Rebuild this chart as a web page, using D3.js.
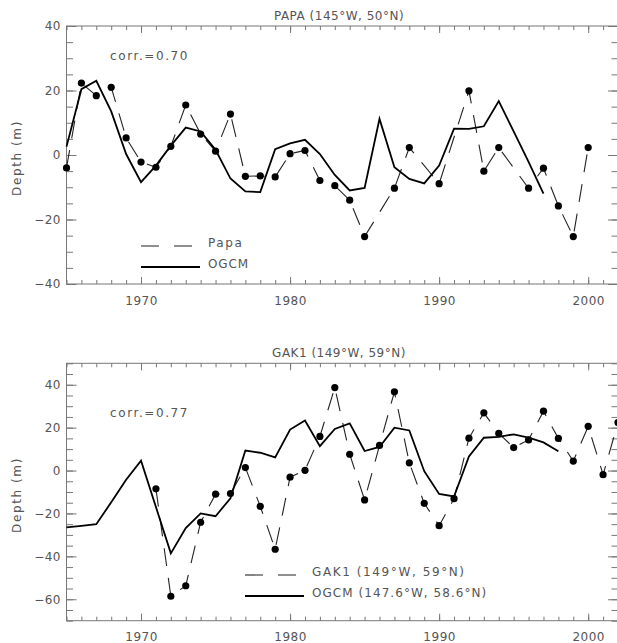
<!DOCTYPE html>
<html>
<head>
<meta charset="utf-8">
<script src="https://cdn.jsdelivr.net/npm/d3@7"></script>
<style>
  body { margin: 0; background: #fff; }
  svg text { font-family: "DejaVu Sans", sans-serif; font-size: 12px; letter-spacing: 0.5px; fill: #555; }
  svg text.lab { letter-spacing: 1.6px; }
  .axis path.domain { display: none; }
  .axis line { stroke: #777; }
</style>
</head>
<body>
<div id="chart"></div>
<script>
// PAPA (145W, 50N) - observed anomaly, years with data only
const papaYears = [1965, 1966, 1967, 1968, 1969, 1970, 1971, 1972, 1973, 1974, 1975, 1976, 1977, 1978,
  1979, 1980, 1981, 1982, 1983, 1984, 1985, 1987, 1988, 1990, 1992, 1993, 1994, 1996, 1997, 1998, 1999, 2000];
const papaObs = [-4, 22.3, 18.4, 21.0, 5.3, -2.2, -3.8, 2.7, 15.5, 6.5, 1.2, 12.7, -6.6, -6.5,
  -6.8, 0.4, 1.4, -7.9, -9.5, -14.0, -25.3, -10.3, 2.3, -8.9, 19.9, -5.0, 2.3, -10.3, -4.1, -15.8, -25.3, 2.3];
// OGCM at PAPA, 1965-1997
const papaModelYears = d3.range(1965, 1998);
const papaModel = [2.6, 20.4, 23.0, 13.5, 0.3, -8.4, -3.3, 2.9, 8.5, 7.3, 1.6, -7.3, -11.3, -11.5,
  1.8, 3.6, 4.7, 0.3, -6.2, -11.0, -10.2, 11.2, -3.8, -7.4, -8.8, -3.3, 8.2, 8.1, 8.9, 16.7, 7.3, -2.1, -12.0];

// GAK1 (149W, 59N), 1971-2002
const gakYears = d3.range(1971, 2003);
const gakObs = [-8.5, -58.6, -53.7, -24.1, -11.0, -10.7, 1.4, -16.7, -36.7, -3.1, 0.1, 15.9, 38.7, 7.6,
  -13.7, 11.7, 36.7, 3.6, -15.3, -25.7, -13.1, 15.1, 26.9, 17.3, 10.7, 14.3, 27.7, 15.0, 4.4, 20.6, -1.9, 22.4];
// OGCM at 147.6W, 58.6N, 1965-1998
const gakModelYears = d3.range(1965, 1999);
const gakModel = [-26.5, -25.8, -25.0, -14.8, -4.3, 4.6, -17.0, -38.6, -26.8, -20.0, -21.3, -12.9, 9.3, 8.3,
  6.1, 19.1, 23.3, 11.4, 19.4, 22.0, 9.1, 11.0, 20.0, 18.7, -0.3, -10.9, -12.1, 6.6, 15.3, 15.7, 16.9, 15.3, 13.1, 9.0];

const xMajor = [1970, 1980, 1990, 2000];

const width = 617;
const height = 643;

const svg = d3.select("#chart")
  .append("svg")
  .attr("width", width)
  .attr("height", height);

const x = d3.scaleLinear().domain([1965, 2002]).range([66.5, 618]);
const xMinor = d3.range(1965, 2003);

function drawPanel(p) {
  const y = d3.scaleLinear().domain(p.yDomain).range(p.yRange);
  const yMinor = d3.range(p.yDomain[0], p.yDomain[1] + 1, 5);
  const top = p.yRange[1], bottom = p.yRange[0];
  const g = svg.append("g");

  // frame
  g.append("rect")
    .attr("x", x.range()[0]).attr("y", top)
    .attr("width", x.range()[1] - x.range()[0]).attr("height", bottom - top)
    .attr("fill", "none").attr("stroke", "#777");

  // x ticks, inward, bottom and top
  g.append("g").attr("class", "axis").attr("transform", `translate(0,${bottom})`)
    .call(d3.axisBottom(x).tickValues(xMinor).tickSize(-4).tickFormat(""));
  g.append("g").attr("class", "axis").attr("transform", `translate(0,${bottom})`)
    .call(d3.axisBottom(x).tickValues(xMajor).tickSize(-7).tickPadding(12).tickFormat(d3.format("d")));
  g.append("g").attr("class", "axis").attr("transform", `translate(0,${top})`)
    .call(d3.axisTop(x).tickValues(xMinor).tickSize(-4).tickFormat(""));
  g.append("g").attr("class", "axis").attr("transform", `translate(0,${top})`)
    .call(d3.axisTop(x).tickValues(xMajor).tickSize(-7).tickFormat(""));

  // y ticks, inward, left and right
  g.append("g").attr("class", "axis").attr("transform", `translate(${x.range()[0]},0)`)
    .call(d3.axisLeft(y).tickValues(yMinor).tickSize(-6.5).tickFormat(""));
  g.append("g").attr("class", "axis").attr("transform", `translate(${x.range()[0]},0)`)
    .call(d3.axisLeft(y).tickValues(p.yMajor).tickSize(-10).tickPadding(5.5));
  g.append("g").attr("class", "axis").attr("transform", `translate(${x.range()[1]},0)`)
    .call(d3.axisRight(y).tickValues(yMinor).tickSize(-6.5).tickFormat(""));
  g.append("g").attr("class", "axis").attr("transform", `translate(${x.range()[1]},0)`)
    .call(d3.axisRight(y).tickValues(p.yMajor).tickSize(-10).tickFormat(""));

  // title and y label
  g.append("text")
    .attr("x", 339).attr("y", top - 6)
    .attr("text-anchor", "middle")
    .text(p.title);
  g.append("text")
    .attr("class", "lab")
    .attr("transform", `translate(21,${(top + bottom) / 2 + 3}) rotate(-90)`)
    .attr("text-anchor", "middle")
    .text("Depth (m)");

  g.append("text")
    .attr("class", "lab")
    .attr("x", 110).attr("y", p.corrY)
    .text(p.corr);

  const line = d3.line().x(d => x(d[0])).y(d => y(d[1]));

  // observed: dashed line + dots
  const obs = p.obsYears.map((yr, i) => [yr, p.obs[i]]);
  g.append("path")
    .datum(obs)
    .attr("d", line)
    .attr("fill", "none")
    .attr("stroke", "#222")
    .attr("stroke-width", 1.1)
    .attr("stroke-dasharray", "18,12");
  g.selectAll(".dot")
    .data(obs)
    .enter()
    .append("circle")
    .attr("class", "dot")
    .attr("cx", d => x(d[0]))
    .attr("cy", d => y(d[1]))
    .attr("r", 3.6)
    .attr("fill", "#000");

  // model: solid line
  const mod = p.modelYears.map((yr, i) => [yr, p.model[i]]);
  g.append("path")
    .datum(mod)
    .attr("d", line)
    .attr("fill", "none")
    .attr("stroke", "#000")
    .attr("stroke-width", 1.8);

  // legend
  const lg = g.append("g");
  lg.append("line")
    .attr("x1", p.legX).attr("x2", p.legX + 52)
    .attr("y1", p.legY).attr("y2", p.legY)
    .attr("stroke", "#222").attr("stroke-width", 1.1)
    .attr("stroke-dasharray", "18,15");
  lg.append("line")
    .attr("x1", p.legX).attr("x2", p.legX + 59)
    .attr("y1", p.legY + 21).attr("y2", p.legY + 21)
    .attr("stroke", "#000").attr("stroke-width", 1.8);
  lg.append("text")
    .attr("class", "lab")
    .attr("x", p.legTextX).attr("y", p.legY + 1)
    .text(p.obsName);
  lg.append("text")
    .attr("class", "lab")
    .style("letter-spacing", p.modelSpacing)
    .attr("x", p.legTextX).attr("y", p.legY + 22)
    .text(p.modelName);
}

drawPanel({
  title: "PAPA (145°W, 50°N)",
  yDomain: [-40, 40], yRange: [284, 26], yMajor: [-40, -20, 0, 20, 40],
  corr: "corr.=0.70", corrY: 60,
  obsYears: papaYears, obs: papaObs,
  modelYears: papaModelYears, model: papaModel,
  legX: 141, legY: 246, legTextX: 208,
  obsName: "Papa", modelName: "OGCM", modelSpacing: "0.9px"
});

drawPanel({
  title: "GAK1 (149°W, 59°N)",
  yDomain: [-70, 50], yRange: [620.7, 363.3], yMajor: [-60, -40, -20, 0, 20, 40],
  corr: "corr.=0.77", corrY: 417,
  obsYears: gakYears, obs: gakObs,
  modelYears: gakModelYears, model: gakModel,
  legX: 245, legY: 575, legTextX: 312,
  obsName: "GAK1 (149°W, 59°N)", modelName: "OGCM (147.6°W, 58.6°N)", modelSpacing: "1.05px"
});
</script>
</body>
</html>
